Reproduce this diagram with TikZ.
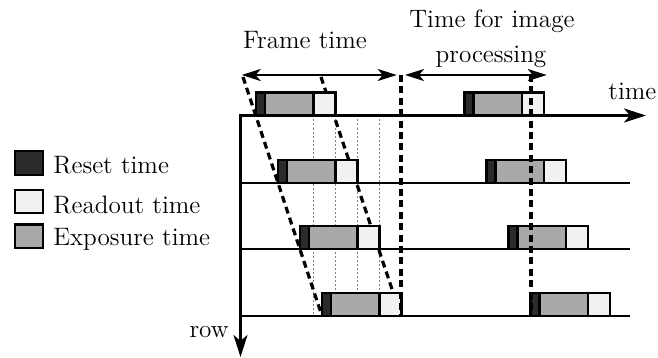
\documentclass[tikz,border=0pt]{standalone}
\usetikzlibrary{arrows.meta}
\definecolor{resetc}{HTML}{2B2B2B}
\definecolor{expoc}{HTML}{A9A9AB}
\definecolor{readc}{HTML}{F0F1F2}
% one exposure bar: #1 = left x, #2 = bottom y
\newcommand\expobar[2]{%
  \draw[box,fill=expoc] ({#1+9},{#2}) rectangle ({#1+57.5},{#2-23});
  \draw[box,fill=readc] ({#1+57.5},{#2}) rectangle ({#1+79.5},{#2-23});
  \draw[box,fill=resetc] ({#1},{#2}) rectangle ({#1+9},{#2-23});
}
\begin{document}
\begin{tikzpicture}[x=0.5pt,y=-0.5pt,
  box/.style={draw=black,line width=1.2pt},
  axis/.style={line width=1.4pt,{Stealth[length=11pt,width=7pt,inset=3pt]}-{Stealth[length=11pt,width=7pt,inset=3pt]}},
  rowline/.style={line width=1.4pt},
  span/.style={line width=1.1pt,{Stealth[length=9.5pt,width=6pt,inset=2.5pt]}-{Stealth[length=9.5pt,width=6pt,inset=2.5pt]}},
  bigdash/.style={line width=1.6pt,dash pattern=on 3.5pt off 2.2pt},
  guide/.style={line width=0.5pt,gray,dash pattern=on 1pt off 1pt},
  lbl/.style={inner sep=0pt,font=\fontsize{12.6}{17.5}\selectfont}]
\useasboundingbox (0,0) rectangle (658,358);

% thin guides at the readout starts
\foreach \gx in {313.5,335.5,357.5,379.5}
  \draw[guide] (\gx,115.5) -- (\gx,316);

% slanted frame boundaries
\coordinate (s1a) at (243,77);  \coordinate (s1b) at (322,316);
\coordinate (s2a) at (321,77);  \coordinate (s2b) at (401,316);
\draw[bigdash] (s1a) -- (s1b);
\draw[bigdash] (s2a) -- (s2b);

% axes and row lines
\coordinate (tend) at (646,115.5);
\coordinate (origin) at (240.5,115.5);
\coordinate (rend) at (240.5,357);
\draw[axis] (tend) -- (origin) -- (rend);
\foreach \ry in {183,249,316}
  \draw[rowline] (240.5,\ry) -- (630,\ry);

% exposure bars
\foreach \i/\ry in {0/115.5,1/183,2/249,3/316}{
  \expobar{256+22*\i}{\ry}
  \expobar{464.5+22*\i}{\ry}
}

% frame end and processing end
\coordinate (fa) at (401,75);  \coordinate (fb) at (401,316);
\coordinate (pa) at (531,75);  \coordinate (pb) at (531,316);
\draw[bigdash] (fa) -- (fb);
\draw[bigdash] (pa) -- (pb);

% spans
\coordinate (f1) at (241.7,75); \coordinate (f2) at (396.7,75);
\coordinate (p1) at (405,75);   \coordinate (p2) at (546.7,75);
\draw[span] (f1) -- (f2);
\draw[span] (p1) -- (p2);

% labels
\node[lbl,anchor=base] (lframe) at (305,48.3) {Frame time};
\node[lbl,anchor=base] (lproc1) at (492,28) {Time for image};
\node[lbl,anchor=base] (lproc2) at (491,63) {processing};
\node[lbl,anchor=base west] (ltime) at (608,100) {time};
\node[lbl,anchor=base east] (lrow) at (229,337) {row};

% legend
\draw[box,fill=resetc] (15,151) rectangle (43,175);
\draw[box,fill=readc] (15,190) rectangle (43,213);
\draw[box,fill=expoc] (15,224.5) rectangle (43,248);
\node[lbl,anchor=base west] (kreset) at (53,173) {Reset time};
\node[lbl,anchor=base west] (kread) at (53,213) {Readout time};
\node[lbl,anchor=base west] (kexpo) at (53,245) {Exposure time};
\end{tikzpicture}
\end{document}
